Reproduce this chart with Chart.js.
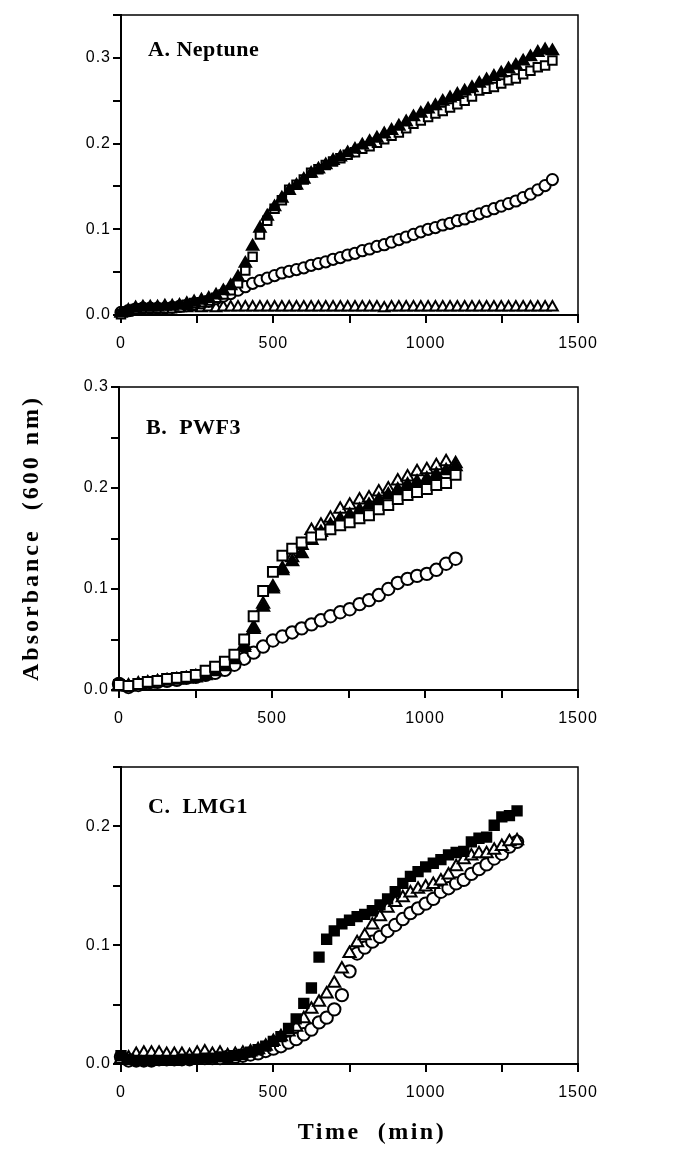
<!DOCTYPE html>
<html>
<head>
<meta charset="utf-8">
<script src="https://cdn.jsdelivr.net/npm/chart.js@4.4.0/dist/chart.umd.min.js"></script>
<style>
body{margin:0;background:#fff;width:679px;height:1152px;position:relative;overflow:hidden;}
canvas{position:absolute;left:0;}
.lbl{position:absolute;font-family:"Liberation Serif","Times New Roman",serif;font-weight:bold;font-size:24px;letter-spacing:2.5px;color:#000;white-space:pre;text-align:center;}
#ylab{left:-170px;top:523px;width:400px;height:30px;line-height:30px;transform:rotate(-90deg);letter-spacing:3px;}
#xlab{left:172px;top:1116px;width:400px;height:30px;line-height:30px;}
</style>
</head>
<body>
<canvas id="grafA" width="679" height="355" style="top:0px"></canvas>
<canvas id="grafB" width="679" height="370" style="top:360px"></canvas>
<canvas id="grafC" width="679" height="412" style="top:740px"></canvas>
<div class="lbl" id="ylab">Absorbance  (600 nm)</div>
<div class="lbl" id="xlab">Time  (min)</div>
<script>
// A. Neptune (tiempo en min, absorbancia 600 nm)
var tiemposA = [0,24,48,72,96,120,144,168,192,216,
    240,264,288,312,336,360,384,408,432,456,
    480,504,528,552,576,600,624,648,672,696,
    720,744,768,792,816,840,864,888,912,936,
    960,984,1008,1032,1056,1080,1104,1128,1152,1176,
    1200,1224,1248,1272,1296,1320,1344,1368,1392,1416];
var neptuneTriNegro = [0.002,0.005,0.008,0.009,0.009,0.009,0.010,0.010,0.011,0.013,
    0.015,0.017,0.019,0.023,0.028,0.034,0.044,0.060,0.080,0.101,
    0.115,0.126,0.136,0.145,0.151,0.158,0.165,0.170,0.175,0.180,
    0.184,0.189,0.193,0.198,0.202,0.206,0.211,0.215,0.220,0.225,
    0.231,0.235,0.240,0.244,0.249,0.253,0.257,0.261,0.265,0.270,
    0.274,0.278,0.282,0.287,0.291,0.296,0.301,0.306,0.309,0.308];
var neptuneCuadro = [0.001,0.004,0.007,0.008,0.008,0.008,0.008,0.008,0.009,0.012,
    0.014,0.015,0.017,0.020,0.024,0.029,0.037,0.052,0.068,0.094,
    0.110,0.124,0.134,0.146,0.152,0.158,0.166,0.170,0.175,0.179,
    0.183,0.187,0.190,0.194,0.197,0.201,0.205,0.209,0.213,0.218,
    0.223,0.227,0.231,0.235,0.238,0.242,0.246,0.250,0.255,0.262,
    0.264,0.266,0.270,0.274,0.276,0.281,0.285,0.289,0.291,0.297];
var neptuneCirculo = [0.003,0.005,0.007,0.008,0.008,0.008,0.008,0.009,0.010,0.011,
    0.013,0.014,0.016,0.019,0.022,0.025,0.029,0.033,0.037,0.040,
    0.043,0.046,0.049,0.051,0.053,0.055,0.058,0.060,0.062,0.065,
    0.067,0.070,0.072,0.075,0.077,0.080,0.082,0.085,0.088,0.091,
    0.094,0.097,0.100,0.102,0.105,0.107,0.110,0.112,0.115,0.118,
    0.121,0.124,0.127,0.130,0.133,0.137,0.141,0.146,0.151,0.158];
var neptuneTriBlanco = [0.002,0.004,0.006,0.007,0.007,0.008,0.008,0.008,0.008,0.008,
    0.009,0.008,0.009,0.008,0.009,0.009,0.009,0.009,0.009,0.009,
    0.009,0.009,0.009,0.009,0.009,0.009,0.009,0.009,0.009,0.009,
    0.009,0.009,0.009,0.009,0.009,0.009,0.008,0.009,0.009,0.009,
    0.009,0.009,0.009,0.009,0.009,0.009,0.009,0.009,0.009,0.009,
    0.009,0.009,0.009,0.009,0.009,0.009,0.009,0.009,0.009,0.009];

// B. PWF3
var tiemposB = [0,31,63,94,126,157,189,220,251,283,
    314,346,377,409,440,471,503,534,566,597,
    629,660,691,723,754,786,817,849,880,911,
    943,974,1006,1037,1069,1100];
var pwfCuadro = [0.005,0.004,0.006,0.008,0.009,0.011,0.012,0.013,0.015,0.019,
    0.023,0.028,0.035,0.050,0.073,0.098,0.117,0.133,0.140,0.146,
    0.151,0.154,0.159,0.163,0.166,0.170,0.173,0.179,0.183,0.189,
    0.193,0.196,0.199,0.203,0.205,0.213];
var pwfTriNegro = [0.003,0.003,0.005,0.006,0.008,0.009,0.010,0.011,0.012,0.014,
    0.018,0.023,0.030,0.042,0.060,0.082,0.100,0.118,0.127,0.135,
    0.148,0.156,0.163,0.169,0.173,0.178,0.183,0.188,0.193,0.198,
    0.203,0.206,0.209,0.213,0.217,0.221];
var pwfTriBlanco = [0.004,0.004,0.006,0.007,0.008,0.009,0.010,0.011,0.013,0.015,
    0.019,0.024,0.031,0.044,0.062,0.085,0.102,0.120,0.131,0.143,
    0.158,0.163,0.170,0.179,0.183,0.188,0.190,0.196,0.199,0.207,
    0.211,0.216,0.218,0.222,0.226,0.224];
var pwfCirculo = [0.006,0.003,0.005,0.007,0.008,0.009,0.010,0.012,0.013,0.015,
    0.017,0.020,0.025,0.031,0.037,0.043,0.049,0.053,0.057,0.061,
    0.065,0.069,0.073,0.077,0.080,0.085,0.089,0.094,0.100,0.106,
    0.110,0.113,0.115,0.119,0.125,0.130];

// C. LMG1
var tiemposC = [0,25,50,75,100,125,150,175,200,225,
    250,275,300,325,350,375,400,425,450,475,
    500,525,550,575,600,625,650,675,700,725,
    750,775,800,825,850,875,900,925,950,975,
    1000,1025,1050,1075,1100,1125,1150,1175,1200,1225,
    1250,1275,1300];
var lmgCuadroNegro = [0.007,0.004,0.003,0.003,0.003,0.003,0.003,0.003,0.004,0.004,
    0.004,0.005,0.005,0.006,0.006,0.007,0.008,0.010,0.012,0.015,
    0.019,0.023,0.030,0.038,0.051,0.064,0.090,0.105,0.112,0.118,
    0.121,0.124,0.126,0.129,0.134,0.139,0.145,0.152,0.158,0.162,
    0.166,0.169,0.172,0.176,0.178,0.179,0.187,0.190,0.191,0.201,
    0.208,0.209,0.213];
var lmgTriBlanco = [0.004,0.005,0.008,0.009,0.009,0.009,0.008,0.008,0.008,0.007,
    0.009,0.010,0.008,0.009,0.007,0.008,0.009,0.010,0.012,0.015,
    0.019,0.023,0.027,0.031,0.038,0.046,0.052,0.059,0.068,0.080,
    0.093,0.102,0.108,0.117,0.124,0.131,0.136,0.140,0.144,0.147,
    0.149,0.151,0.154,0.159,0.166,0.172,0.175,0.177,0.177,0.180,
    0.183,0.187,0.188];
var lmgCirculo = [0.006,0.003,0.003,0.003,0.003,0.004,0.004,0.004,0.004,0.004,
    0.005,0.005,0.005,0.005,0.006,0.006,0.007,0.008,0.009,0.011,
    0.013,0.015,0.018,0.021,0.025,0.029,0.035,0.039,0.046,0.058,
    0.078,0.093,0.098,0.103,0.107,0.112,0.117,0.122,0.127,0.131,
    0.135,0.139,0.145,0.148,0.152,0.155,0.160,0.164,0.168,0.173,
    0.177,0.183,0.187];

var ticksX = [0, 500, 1000, 1500];

// titulo del panel + marco superior/derecho
var marcoPanel = {
    id: 'marcoPanel',
    beforeDraw: function(chart){
        chart.ctx.letterSpacing = '1px';
    },
    afterDraw: function(chart, args, opts){
        var ctx = chart.ctx;
        var a = chart.chartArea;
        ctx.save();
        ctx.strokeStyle = '#000';
        ctx.lineWidth = 1.5;
        ctx.beginPath();
        ctx.moveTo(a.left, a.top);
        ctx.lineTo(a.right, a.top);
        ctx.lineTo(a.right, a.bottom);
        ctx.stroke();
        ctx.letterSpacing = '0.5px';
        ctx.font = 'bold 22px "Liberation Serif", "Times New Roman", serif';
        ctx.fillStyle = '#000';
        ctx.textBaseline = 'middle';
        ctx.fillText(opts.texto, a.left + 27, a.top + opts.dy);
        ctx.restore();
    }
};

function serie(tiempos, valores, estilo, relleno, radio){
    var pts = [];
    for (var i = 0; i < tiempos.length; i++) {
        pts.push({x: tiempos[i], y: valores[i]});
    }
    return {
        data: pts,
        pointStyle: estilo,
        pointRadius: radio,
        backgroundColor: relleno ? '#000' : '#fff',
        borderColor: '#000',
        borderWidth: 2,
        showLine: false,
        clip: false
    };
}

function etiquetaY(v){
    var d = v * 10;
    return Math.abs(d - Math.round(d)) < 1e-6 ? v.toFixed(1) : '';
}

function creargraf(id, datasets, yMax, izq, altoX, arriba, texto, dy){
    var ctx = document.getElementById(id).getContext('2d');
    return new Chart(ctx, {
        type: 'scatter',
        data: { datasets: datasets },
        plugins: [marcoPanel],
        options: {
            responsive: false,
            animation: false,
            layout: { padding: { top: arriba, right: 101, left: 0, bottom: 0 } },
            plugins: {
                legend: { display: false },
                tooltip: { enabled: false },
                marcoPanel: { texto: texto, dy: dy }
            },
            scales: {
                x: {
                    type: 'linear',
                    min: 0, max: 1500,
                    afterFit: function(s){ s.height = altoX; },
                    border: { display: true, color: '#000', width: 2 },
                    grid: { drawOnChartArea: false, drawTicks: true, tickLength: 8, color: '#000', lineWidth: 2 },
                    ticks: {
                        stepSize: 250, autoSkip: false, maxRotation: 0, padding: 11,
                        color: '#000',
                        font: { family: '"Liberation Sans", Arial, sans-serif', size: 16 },
                        callback: function(v){ return ticksX.indexOf(v) >= 0 ? String(v) : ''; }
                    }
                },
                y: {
                    min: 0, max: yMax,
                    afterFit: function(s){ s.width = izq; },
                    border: { display: true, color: '#000', width: 2 },
                    grid: { drawOnChartArea: false, drawTicks: true, tickLength: 8, color: '#000', lineWidth: 2 },
                    ticks: {
                        stepSize: 0.05, autoSkip: false, padding: 2,
                        color: '#000',
                        font: { family: '"Liberation Sans", Arial, sans-serif', size: 16 },
                        callback: etiquetaY
                    }
                }
            }
        }
    });
}

window.onload = function(){
    creargraf('grafA', [
        serie(tiemposA, neptuneTriNegro, 'triangle', true, 6.6),
        serie(tiemposA, neptuneCuadro, 'rect', false, 6),
        serie(tiemposA, neptuneCirculo, 'circle', false, 5.6),
        serie(tiemposA, neptuneTriBlanco, 'triangle', false, 6.2)
    ], 0.35, 121, 40, 15, 'A. Neptune', 35);

    creargraf('grafB', [
        serie(tiemposB, pwfCuadro, 'rect', false, 7),
        serie(tiemposB, pwfTriNegro, 'triangle', true, 7),
        serie(tiemposB, pwfTriBlanco, 'triangle', false, 7),
        serie(tiemposB, pwfCirculo, 'circle', false, 6.2)
    ], 0.3, 119, 40, 27, 'B.  PWF3', 41);

    creargraf('grafC', [
        serie(tiemposC, lmgCuadroNegro, 'rect', true, 6.6),
        serie(tiemposC, lmgTriBlanco, 'triangle', false, 7),
        serie(tiemposC, lmgCirculo, 'circle', false, 6.2)
    ], 0.25, 121, 88, 27, 'C.  LMG1', 40);
};
</script>
</body>
</html>
